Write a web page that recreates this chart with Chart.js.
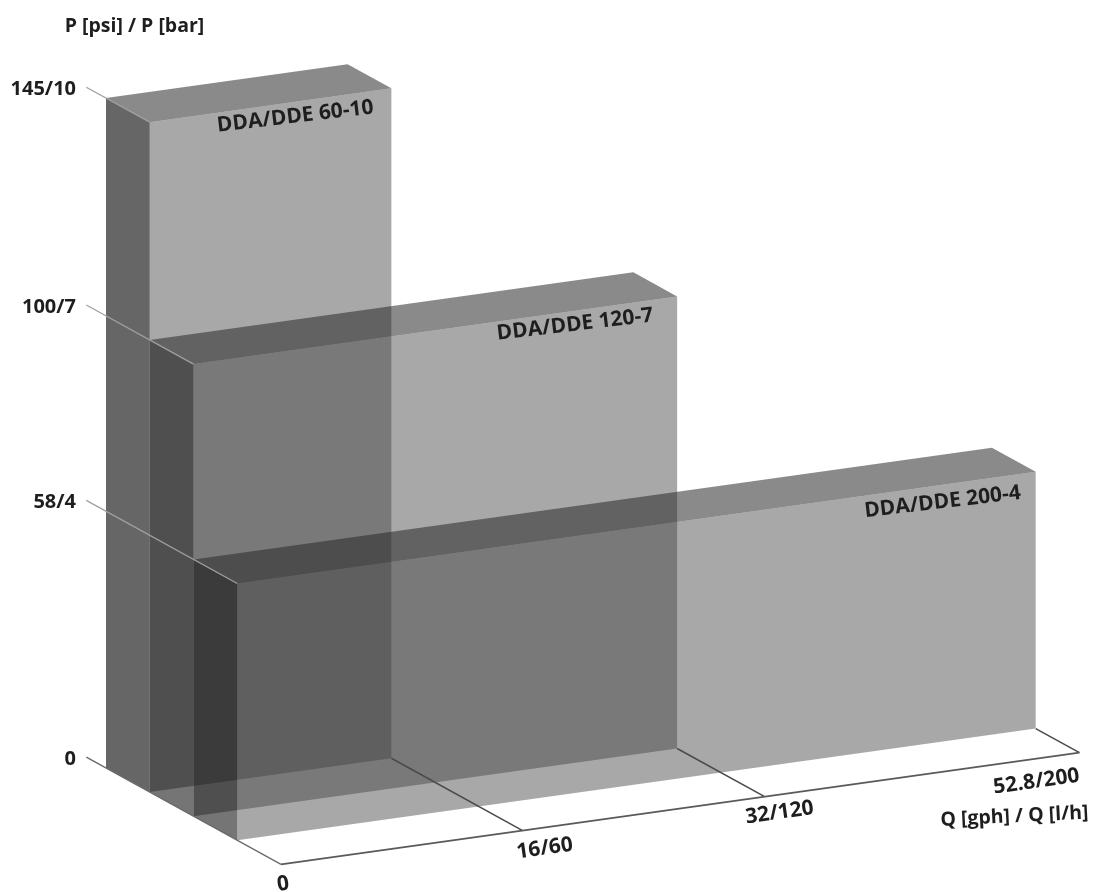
<!DOCTYPE html>
<html>
<head>
<meta charset="utf-8">
<title>DDA/DDE pressure and flow</title>
<script src="https://cdn.jsdelivr.net/npm/chart.js@4"></script>
<style>
  html, body { margin: 0; padding: 0; background: #fff; }
  canvas { display: block; }
</style>
</head>
<body>
<canvas id="pump-chart" width="1096" height="892"></canvas>
<script>
// Pump ranges, back to front
const boxNames = ['DDA/DDE 60-10', 'DDA/DDE 120-7', 'DDA/DDE 200-4'];
// Sizes, the axes are not quite to scale
const boxFlow = [60.4, 120.9, 199.6];
const boxPressure = [10.15, 6.85, 3.89];

const pressureTicks = [10.15, 6.85, 3.89, 0];
const pressureTickLabels = ['145/10', '100/7', '58/4', '0'];
const flowTicks = [0, 60.4, 120.9, 199.6];
const flowTickLabels = ['0', '16/60', '32/120', '52.8/200'];

const pressureTitle = 'P [psi] / P [bar]';
const flowTitle = 'Q [gph] / Q [l/h]';

// Oblique projection of (flow, pressure, depth) onto the two chart scales
const DEPTH_FLOW = 10.94;
const DEPTH_PRESSURE = -0.365;
const FLOW_RISE = 0.00848;
const FLOOR_DEPTH = 4;

function project(q, p, d) {
    return { x: q + d * DEPTH_FLOW, y: p + q * FLOW_RISE + d * DEPTH_PRESSURE };
}

function polygon(points, color) {
    return {
        data: points.concat([points[0]]),
        showLine: true,
        fill: 'shape',
        backgroundColor: color,
        borderWidth: 0,
        borderColor: 'transparent',
        pointRadius: 0,
        tension: 0,
        clip: false
    };
}

function line(points, color, width) {
    return {
        data: points,
        showLine: true,
        fill: false,
        borderColor: color,
        borderWidth: width,
        pointRadius: 0,
        tension: 0,
        clip: false
    };
}

const datasets = [];

// every box is a side, a top and a front face, see-through so they darken each other
boxNames.forEach((name, i) => {
    const q = boxFlow[i];
    const p = boxPressure[i];
    const back = i;
    const front = i + 1;
    const sideColor = i === 0 ? 'rgba(0,0,0,0.6)' : 'rgba(10,10,10,0.565)';

    datasets.push(polygon([project(0, 0, back), project(0, p, back), project(0, p, front), project(0, 0, front)], sideColor));
    datasets.push(polygon([project(0, p, back), project(q, p, back), project(q, p, front), project(0, p, front)], 'rgba(42,42,42,0.548)'));
    datasets.push(polygon([project(0, 0, front), project(0, p, front), project(q, p, front), project(q, 0, front)], 'rgba(66,66,66,0.46)'));
});

// pressure ticks run along the box edges
pressureTicks.forEach((p, i) => {
    const end = p === 0 ? FLOOR_DEPTH : i + 1;
    const color = p === 0 ? '#6a6a6a' : '#a0a0a0';
    datasets.push(line([project(0, p, -0.45), project(0, p, end)], color, 1.3));
});

// flow ticks run from the front of each box to the front of the floor
flowTicks.slice(1).forEach((q, i) => {
    datasets.push(line([project(q, 0, i + 1), project(q, 0, FLOOR_DEPTH)], '#4a4a4a', 1.5));
});
datasets.push(line([project(0, 0, FLOOR_DEPTH), project(flowTicks[3], 0, FLOOR_DEPTH)], '#5a5a5a', 1.6));

// later datasets have to paint over earlier ones
datasets.forEach((ds, i) => { ds.order = datasets.length - i; });

const FONT = '"Open Sans", "Noto Sans", sans-serif';
const BOX_SLANT = -0.118;
const TICK_SLANT = -0.14;

// Chart.js has no labels for a projected axis, so they are placed through its scales here
const labelPlugin = {
    id: 'projectedLabels',
    afterDatasetsDraw(chart) {
        const { ctx, scales } = chart;

        function put(text, pt, dx, dy, angle, align, size) {
            ctx.save();
            ctx.translate(scales.x.getPixelForValue(pt.x) + dx, scales.y.getPixelForValue(pt.y) + dy);
            ctx.rotate(angle);
            ctx.font = '700 ' + size + 'px ' + FONT;
            ctx.fillStyle = '#1e1e1e';
            ctx.textAlign = align;
            ctx.textBaseline = 'middle';
            ctx.fillText(text, 0, 0);
            ctx.restore();
        }

        const boxLabelInsets = [[-18, 19], [-24, 19], [-15, 21]];
        boxNames.forEach((name, i) => {
            const inset = boxLabelInsets[i];
            put(name, project(boxFlow[i], boxPressure[i], i + 1), inset[0], inset[1], BOX_SLANT, 'right', 21);
        });

        pressureTicks.forEach((p, i) => {
            put(pressureTickLabels[i], project(0, p, 0), -30, -9, 0, 'right', 20);
        });

        const flowLabelOffsets = [[2, 20], [22, 18], [15, 16], [-43, 29]];
        flowTicks.forEach((q, i) => {
            const off = flowLabelOffsets[i];
            put(flowTickLabels[i], project(q, 0, FLOOR_DEPTH), off[0], off[1], TICK_SLANT, 'center', 21);
        });

        put(pressureTitle, project(0, 11.2, 0), 28.5, -2, 0, 'center', 19.5);
        put(flowTitle, project(flowTicks[3], 0, FLOOR_DEPTH), -65, 64, -0.05, 'center', 19.5);
    }
};

new Chart(document.getElementById('pump-chart'), {
    type: 'scatter',
    data: { datasets: datasets },
    options: {
        responsive: false,
        animation: false,
        layout: { padding: 0 },
        plugins: {
            legend: { display: false },
            title: { display: false },
            tooltip: { enabled: false }
        },
        scales: {
            x: { type: 'linear', display: false, min: -26.5, max: 247.5 },
            y: { type: 'linear', display: false, min: -1.879, max: 11.636 }
        }
    },
    plugins: [labelPlugin]
});
</script>
</body>
</html>
